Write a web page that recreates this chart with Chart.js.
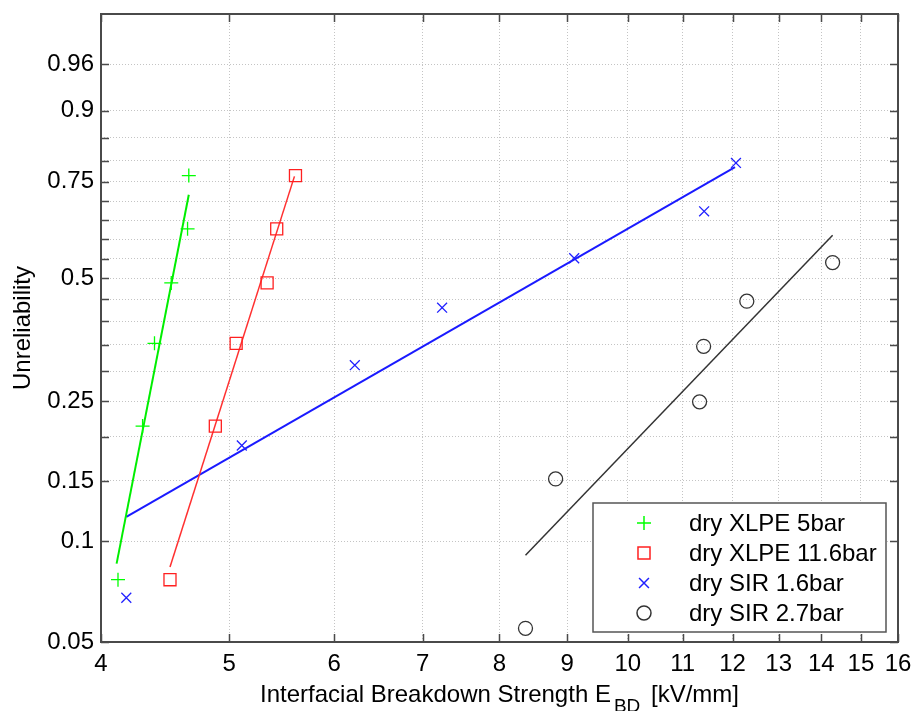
<!DOCTYPE html>
<html lang="en">
<head>
<meta charset="UTF-8">
<title>Weibull plot - Interfacial Breakdown Strength</title>
<script src="https://cdn.jsdelivr.net/npm/chart.js"></script>
<style>
  html, body { margin: 0; padding: 0; background: #fff; }
  #wrap { width: 913px; height: 711px; }
</style>
</head>
<body>
<div id="wrap"><canvas id="weibull" width="913" height="711"></canvas></div>
<script>
// measured points: breakdown strength [kV/mm] and unreliability F
const xlpe5Strength  = [4.12, 4.30, 4.39, 4.52, 4.65, 4.66];
const xlpe5Unrel     = [0.077, 0.214, 0.353, 0.489, 0.628, 0.765];
const xlpe11Strength = [4.51, 4.88, 5.06, 5.34, 5.43, 5.61];
const xlpe11Unrel    = [0.077, 0.214, 0.353, 0.489, 0.628, 0.765];
const sir16Strength  = [4.18, 5.11, 6.22, 7.24, 9.11, 11.42, 12.07];
const sir16Unrel     = [0.068, 0.189, 0.311, 0.430, 0.551, 0.674, 0.795];
const sir27Strength  = [8.37, 8.82, 11.33, 11.41, 12.30, 14.28];
const sir27Unrel     = [0.055, 0.152, 0.249, 0.347, 0.445, 0.540];

// fitted Weibull lines (end points)
const xlpe5FitX  = [4.11, 4.66];   const xlpe5FitF  = [0.086, 0.717];
const xlpe11FitX = [4.51, 5.60];   const xlpe11FitF = [0.084, 0.763];
const sir16FitX  = [4.18, 12.05];  const sir16FitF  = [0.118, 0.785];
const sir27FitX  = [8.37, 14.28];  const sir27FitF  = [0.091, 0.611];

const seriesNames = ['dry XLPE 5bar', 'dry XLPE 11.6bar', 'dry SIR 1.6bar', 'dry SIR 2.7bar'];

// axis ticks
const xTicks = [4, 5, 6, 7, 8, 9, 10, 11, 12, 13, 14, 15, 16];
const yGridProbs = [0.05, 0.1, 0.15, 0.2, 0.25, 0.3, 0.35, 0.4, 0.45, 0.5,
                    0.55, 0.6, 0.65, 0.7, 0.75, 0.8, 0.85, 0.9, 0.96];
const yLabelProbs = ['0.05', '0.1', '0.15', '0.25', '0.5', '0.75', '0.9', '0.96'];

const FONT = "'Liberation Sans', Arial, Helvetica, sans-serif";
const weib = F => Math.log(-Math.log(1 - F));
const pts = (xs, fs) => xs.map((x, i) => ({ x: x, y: weib(fs[i]) }));

const markerSets = [
  { label: seriesNames[0], data: pts(xlpe5Strength, xlpe5Unrel),  pointStyle: 'cross',    pointRadius: 7,   borderColor: '#00ff00' },
  { label: seriesNames[1], data: pts(xlpe11Strength, xlpe11Unrel), pointStyle: 'rect',    pointRadius: 8.5, borderColor: '#ff2020' },
  { label: seriesNames[2], data: pts(sir16Strength, sir16Unrel),  pointStyle: 'crossRot', pointRadius: 7,   borderColor: '#2020ff' },
  { label: seriesNames[3], data: pts(sir27Strength, sir27Unrel),  pointStyle: 'circle',   pointRadius: 7,   borderColor: '#333333' }
];
markerSets.forEach(d => {
  d.showLine = false;
  d.backgroundColor = 'rgba(0,0,0,0)';
  d.pointBorderWidth = 1.3;
  d.pointHoverRadius = d.pointRadius;
});

const fitSets = [
  { data: pts(xlpe5FitX, xlpe5FitF),   borderColor: '#00ee00', borderWidth: 2 },
  { data: pts(xlpe11FitX, xlpe11FitF), borderColor: '#ff3030', borderWidth: 1.5 },
  { data: pts(sir16FitX, sir16FitF),   borderColor: '#1a1aff', borderWidth: 2 },
  { data: pts(sir27FitX, sir27FitF),   borderColor: '#333333', borderWidth: 1.5 }
];
fitSets.forEach(d => {
  d.label = '';
  d.showLine = true;
  d.pointRadius = 0;
  d.fill = false;
});

// fixed axis boxes, no extra padding for overflowing labels
function fixBox(s, size) {
  if (s.isHorizontal()) s.height = size; else s.width = size;
  s.paddingTop = s.paddingBottom = s.paddingLeft = s.paddingRight = 0;
}

// frame, inward ticks, legend and axis titles
const decor = {
  id: 'decor',
  afterDatasetsDraw(chart) {
    const { ctx, chartArea: a, scales: { x, y } } = chart;
    ctx.save();

    // inward tick marks on all four sides
    ctx.strokeStyle = '#4a4a4a';
    ctx.lineWidth = 1.5;
    ctx.beginPath();
    xTicks.forEach(v => {
      const px = Math.round(x.getPixelForValue(v)) + 0.5;
      ctx.moveTo(px, a.bottom); ctx.lineTo(px, a.bottom - 8);
      ctx.moveTo(px, a.top);    ctx.lineTo(px, a.top + 8);
    });
    yGridProbs.forEach(p => {
      const py = Math.round(y.getPixelForValue(weib(p))) + 0.5;
      ctx.moveTo(a.left, py);  ctx.lineTo(a.left + 8, py);
      ctx.moveTo(a.right, py); ctx.lineTo(a.right - 8, py);
    });
    ctx.stroke();

    // box
    ctx.lineWidth = 2;
    ctx.strokeRect(a.left, a.top, a.right - a.left, a.bottom - a.top);

    // legend
    const bw = 293, bh = 129;
    const bx = a.right - 12 - bw, by = a.bottom - 10 - bh;
    ctx.fillStyle = '#fff';
    ctx.fillRect(bx, by, bw, bh);
    ctx.strokeStyle = '#555';
    ctx.lineWidth = 1.5;
    ctx.strokeRect(bx, by, bw, bh);
    ctx.font = '24px ' + FONT;
    ctx.textBaseline = 'middle';
    ctx.textAlign = 'left';
    markerSets.forEach((d, i) => {
      const cy = by + 20 + i * 30;
      ctx.strokeStyle = d.borderColor;
      ctx.fillStyle = 'rgba(0,0,0,0)';
      Chart.helpers.drawPoint(ctx, { pointStyle: d.pointStyle, radius: d.pointRadius, borderWidth: 1.3, rotation: 0 }, bx + 51, cy);
      ctx.fillStyle = '#000';
      ctx.fillText(d.label, bx + 96, cy + 1);
    });

    // x title with subscript
    ctx.fillStyle = '#000';
    ctx.textBaseline = 'alphabetic';
    const mainFont = '24px ' + FONT, subFont = '19px ' + FONT;
    const t1 = 'Interfacial Breakdown Strength E', t2 = 'BD', t3 = ' [kV/mm]';
    ctx.font = mainFont;
    const w1 = ctx.measureText(t1).width, w3 = ctx.measureText(t3).width;
    ctx.font = subFont;
    const w2 = ctx.measureText(t2).width;
    const total = w1 + 3 + w2 + 4 + w3;
    let tx = (a.left + a.right) / 2 - total / 2;
    const base = 702;
    ctx.font = mainFont;
    ctx.fillText(t1, tx, base);
    tx += w1 + 3;
    ctx.font = subFont;
    ctx.fillText(t2, tx, base + 10);
    tx += w2 + 4;
    ctx.font = mainFont;
    ctx.fillText(t3, tx, base);

    // y title
    ctx.translate(23, (a.top + a.bottom) / 2);
    ctx.rotate(-Math.PI / 2);
    ctx.textAlign = 'center';
    ctx.textBaseline = 'middle';
    ctx.fillText('Unreliability', 0, 0);
    ctx.restore();
  }
};

new Chart(document.getElementById('weibull'), {
  type: 'scatter',
  data: { datasets: markerSets.concat(fitSets) },
  options: {
    responsive: false,
    animation: false,
    layout: { padding: { top: 14, right: 15, left: 0, bottom: 0 } },
    plugins: {
      legend: { display: false },
      tooltip: { enabled: false }
    },
    scales: {
      x: {
        type: 'logarithmic',
        min: 4,
        max: 16,
        afterBuildTicks: s => { s.ticks = xTicks.map(v => ({ value: v })); },
        afterFit: s => fixBox(s, 69),
        grid: { color: '#c4c4c4', lineWidth: 1, drawTicks: false },
        border: { display: false, dash: [1, 2] },
        ticks: {
          autoSkip: false,
          maxRotation: 0,
          padding: 8,
          color: '#000',
          font: { family: FONT, size: 24 },
          callback: v => String(v)
        }
      },
      y: {
        type: 'linear',
        min: weib(0.05),
        max: weib(0.99),
        afterBuildTicks: s => { s.ticks = yGridProbs.map(p => ({ value: weib(p) })); },
        afterFit: s => fixBox(s, 101),
        grid: { color: '#c4c4c4', lineWidth: 1, drawTicks: false },
        border: { display: false, dash: [1, 2] },
        ticks: {
          autoSkip: false,
          padding: 7,
          color: '#000',
          font: { family: FONT, size: 24 },
          callback: (v, i) => {
            const p = String(yGridProbs[i]);
            return yLabelProbs.includes(p) ? p : '';
          }
        }
      }
    }
  },
  plugins: [decor]
});
</script>
</body>
</html>
